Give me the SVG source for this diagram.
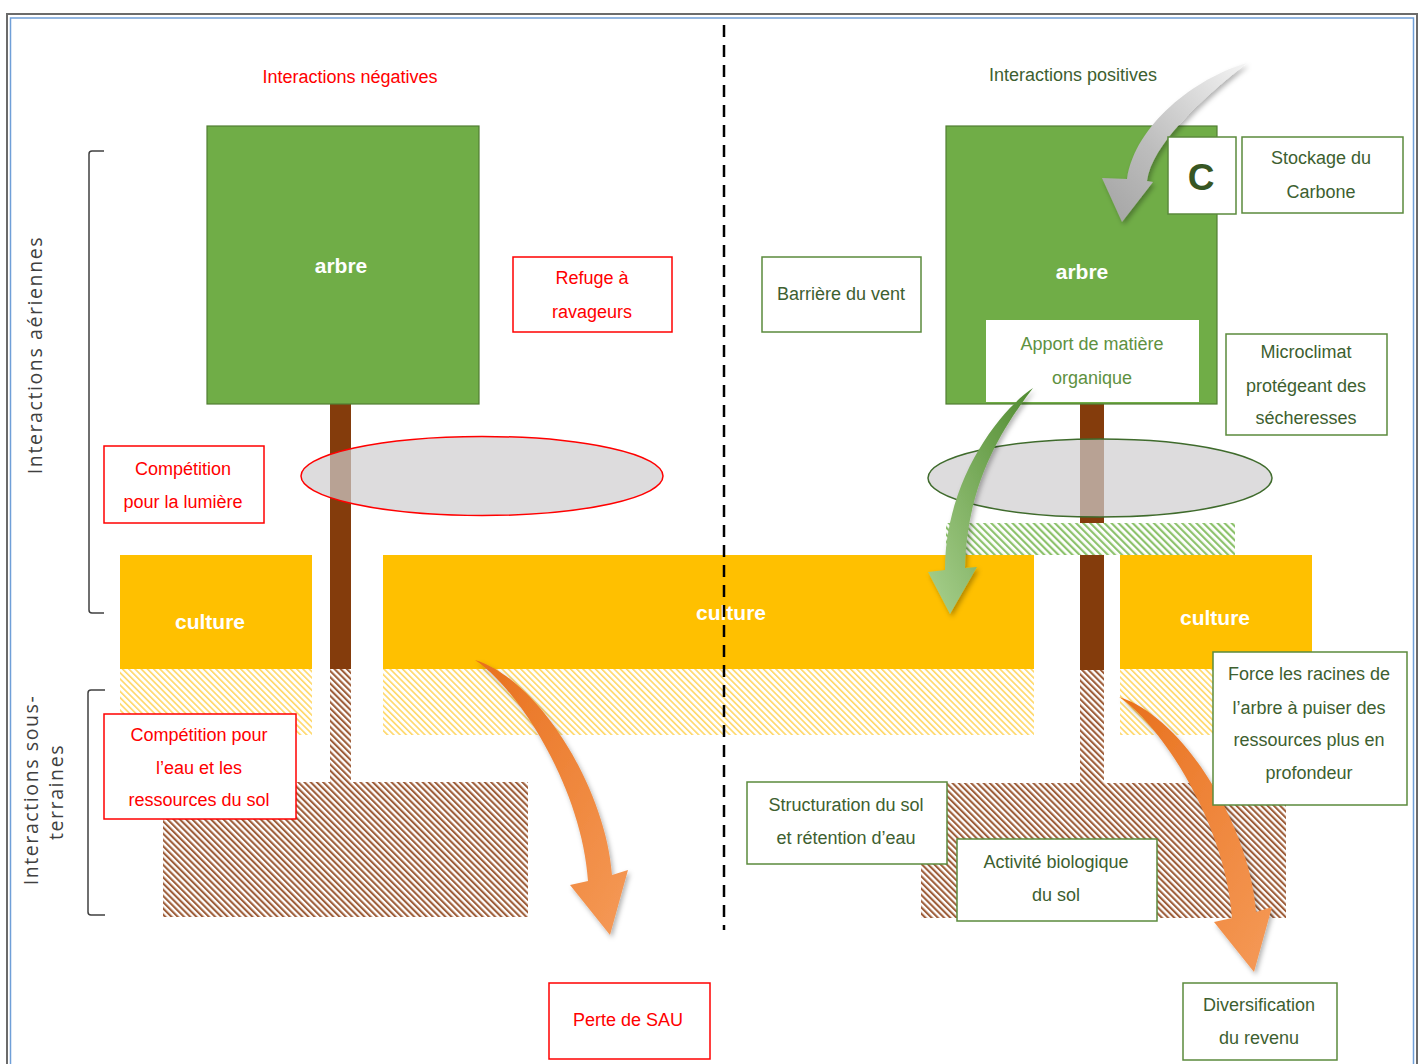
<svg xmlns="http://www.w3.org/2000/svg" width="1422" height="1064" viewBox="0 0 1422 1064">
<defs>
<style>
.t{font-family:"Liberation Sans",Arial,sans-serif;font-size:18px;text-anchor:middle}
.r{fill:#FF0000}
.g{fill:#3D6030}
.lbl{font-family:"Open Sans","DejaVu Sans",sans-serif;font-size:19.5px;letter-spacing:1.6px;fill:#404040;text-anchor:middle}
.b{font-family:"Liberation Sans",Arial,sans-serif;font-size:21px;font-weight:bold;fill:#FFFFFF;text-anchor:middle}
.rb{fill:#FFFFFF;stroke:#FF0000;stroke-width:1.5}
.gb{fill:#FFFFFF;stroke:#5B8A3C;stroke-width:1.5}
.tree{fill:#70AD47;stroke:#507E32;stroke-width:1.2}
.trunk{fill:#843C0C}
.cult{fill:#FFC000}
.br{fill:none;stroke:#404040;stroke-width:1.5}
</style>
<pattern id="hb" width="4.4" height="10" patternUnits="userSpaceOnUse" patternTransform="rotate(-45)"><rect width="2.1" height="10" fill="#9E5E3A"/></pattern>
<pattern id="hy" width="4.4" height="10" patternUnits="userSpaceOnUse" patternTransform="rotate(-45)"><rect width="1.6" height="10" fill="#FFD766"/></pattern>
<pattern id="hg" width="5" height="10" patternUnits="userSpaceOnUse" patternTransform="rotate(-45)"><rect width="2.2" height="10" fill="#8DC26C"/></pattern>
<linearGradient id="go" x1="0" y1="0" x2="1" y2="1"><stop offset="0" stop-color="#E8701C"/><stop offset="1" stop-color="#F59A58"/></linearGradient>
<linearGradient id="gg" x1="1" y1="0" x2="0" y2="1"><stop offset="0" stop-color="#4F8A2F"/><stop offset="1" stop-color="#A9D18E"/></linearGradient>
<linearGradient id="gy" x1="1" y1="0" x2="0" y2="1"><stop offset="0" stop-color="#F4F4F4"/><stop offset="0.6" stop-color="#BDBDBD"/><stop offset="1" stop-color="#A3A3A3"/></linearGradient>
<filter id="sh" x="-30%" y="-30%" width="160%" height="160%"><feDropShadow dx="2" dy="3" stdDeviation="2.5" flood-color="#000000" flood-opacity="0.3"/></filter>
</defs>
<rect width="1422" height="1064" fill="#FFFFFF"/>
<g id="frame">
<rect x="7" y="14" width="1410" height="1090" fill="none" stroke="#6B6B6B" stroke-width="2"/>
<rect x="10.5" y="18" width="1403" height="1090" fill="none" stroke="#6F9FD8" stroke-width="1.5"/>
</g>
<g id="side-labels">
<text class="lbl" transform="translate(42,355) rotate(-90)">Interactions aériennes</text>
<text class="lbl" transform="translate(38,790) rotate(-90)">Interactions sous-</text>
<text class="lbl" transform="translate(63,792) rotate(-90)">terraines</text>
<path class="br" d="M104,151 H92 Q89,151 89,154 V610 Q89,613 92,613 H104"/>
<path class="br" d="M105,690 H91 Q88,690 88,693 V912 Q88,915 91,915 H105"/>
</g>
<g id="soil">
<rect x="120" y="669" width="192" height="66" fill="url(#hy)"/>
<rect x="383" y="669" width="651" height="66" fill="url(#hy)"/>
<rect x="1120" y="669" width="192" height="66" fill="url(#hy)"/>
<rect x="330" y="669" width="21" height="113" fill="url(#hb)"/>
<rect x="163" y="782" width="365" height="135" fill="url(#hb)"/>
<rect x="1080" y="670" width="24" height="113" fill="url(#hb)"/>
<rect x="921" y="783" width="365" height="135" fill="url(#hb)"/>
<rect x="946" y="523" width="289" height="32" fill="url(#hg)"/>
</g>
<g id="culture-left"><rect class="cult" x="120" y="555" width="192" height="114"/><text class="b" x="210" y="629">culture</text></g>
<g id="culture-middle"><rect class="cult" x="383" y="555" width="651" height="114"/><text class="b" x="731" y="620">culture</text></g>
<g id="culture-right"><rect class="cult" x="1120" y="555" width="192" height="114"/><text class="b" x="1215" y="625">culture</text></g>
<g id="tree-left">
<rect class="trunk" x="330" y="404" width="21" height="265"/>
<rect class="tree" x="207" y="126" width="272" height="278"/>
<text class="b" x="341" y="273">arbre</text>
</g>
<g id="tree-right">
<rect class="trunk" x="1080" y="404" width="24" height="119"/>
<rect class="trunk" x="1080" y="555" width="24" height="115"/>
<rect class="tree" x="946" y="126" width="271" height="278"/>
<text class="b" x="1082" y="279">arbre</text>
</g>
<g id="shade-left"><ellipse cx="482" cy="476" rx="181" ry="39.5" fill="#CFCDCE" fill-opacity="0.7" stroke="#FF0000" stroke-width="1.5"/></g>
<g id="shade-right"><ellipse cx="1100" cy="478" rx="172" ry="39" fill="#CFCDCE" fill-opacity="0.7" stroke="#3F6B2C" stroke-width="1.5"/></g>
<g id="divider"><line x1="724" y1="25" x2="724" y2="930" stroke="#000000" stroke-width="2.5" stroke-dasharray="12 8"/></g>
<g id="title-neg"><text class="t r" x="350" y="83">Interactions négatives</text></g>
<g id="title-pos"><text class="t g" x="1073" y="81">Interactions positives</text></g>
<g id="refuge"><rect class="rb" x="513" y="257" width="159" height="75"/><text class="t r" x="592" y="284">Refuge à</text><text class="t r" x="592" y="318">ravageurs</text></g>
<g id="competition-lumiere"><rect class="rb" x="104" y="446" width="160" height="77"/><text class="t r" x="183" y="475">Compétition</text><text class="t r" x="183" y="508">pour la lumière</text></g>
<g id="competition-eau"><rect class="rb" x="104" y="714" width="192" height="105"/><text class="t r" x="199" y="741">Compétition pour</text><text class="t r" x="199" y="774">l’eau et les</text><text class="t r" x="199" y="806">ressources du sol</text></g>
<g id="barriere"><rect class="gb" x="762" y="257" width="159" height="75"/><text class="t g" x="841" y="300">Barrière du vent</text></g>
<g id="apport"><rect x="986" y="320" width="213" height="82" fill="#FFFFFF"/><text class="t" fill="#5E9141" x="1092" y="350">Apport de matière</text><text class="t" fill="#5E9141" x="1092" y="384">organique</text></g>
<g id="connectors">
<path d="M1247,63 C1195,78 1135,125 1127,179 L1102,178 L1122,222 L1153,182 L1147,181 C1152,145 1200,100 1247,63 Z" fill="url(#gy)" filter="url(#sh)"/>
<path d="M1033,388 C1000,410 945,480 945,570 L928,572 L950,614 L977,567 L965,568 C967,480 1005,425 1033,388 Z" fill="url(#gg)" filter="url(#sh)"/>
<path id="arrow-perte" d="M475,660 C520,690 582,790 588,881 L570,885 L610,935 L628,870 L612,875 C606,790 540,680 475,660 Z" fill="url(#go)" filter="url(#sh)"/>
<path d="M475,660 C520,690 582,790 588,881 L570,885 L610,935 L628,870 L612,875 C606,790 540,680 475,660 Z" transform="translate(644,37)" fill="url(#go)" filter="url(#sh)"/>
</g>
<g id="carbone-c"><rect class="gb" x="1168" y="137" width="68" height="77"/><text x="1201" y="190" font-family="Liberation Sans,Arial,sans-serif" font-size="37" font-weight="bold" fill="#375623" text-anchor="middle">C</text></g>
<g id="stockage"><rect class="gb" x="1242" y="137" width="161" height="76"/><text class="t g" x="1321" y="164">Stockage du</text><text class="t g" x="1321" y="198">Carbone</text></g>
<g id="microclimat"><rect class="gb" x="1226" y="334" width="161" height="101"/><text class="t g" x="1306" y="358">Microclimat</text><text class="t g" x="1306" y="392">protégeant des</text><text class="t g" x="1306" y="424">sécheresses</text></g>
<g id="force"><rect class="gb" x="1213" y="652" width="194" height="153"/><text class="t g" x="1309" y="680">Force les racines de</text><text class="t g" x="1309" y="714">l’arbre à puiser des</text><text class="t g" x="1309" y="746">ressources plus en</text><text class="t g" x="1309" y="779">profondeur</text></g>
<g id="structuration"><rect class="gb" x="747" y="782" width="200" height="82"/><text class="t g" x="846" y="811">Structuration du sol</text><text class="t g" x="846" y="844">et rétention d’eau</text></g>
<g id="activite"><rect class="gb" x="957" y="839" width="200" height="82"/><text class="t g" x="1056" y="868">Activité biologique</text><text class="t g" x="1056" y="901">du sol</text></g>
<g id="perte"><rect class="rb" x="549" y="983" width="161" height="76"/><text class="t r" x="628" y="1026">Perte de SAU</text></g>
<g id="diversification"><rect class="gb" x="1183" y="983" width="154" height="77"/><text class="t g" x="1259" y="1011">Diversification</text><text class="t g" x="1259" y="1044">du revenu</text></g>
</svg>
